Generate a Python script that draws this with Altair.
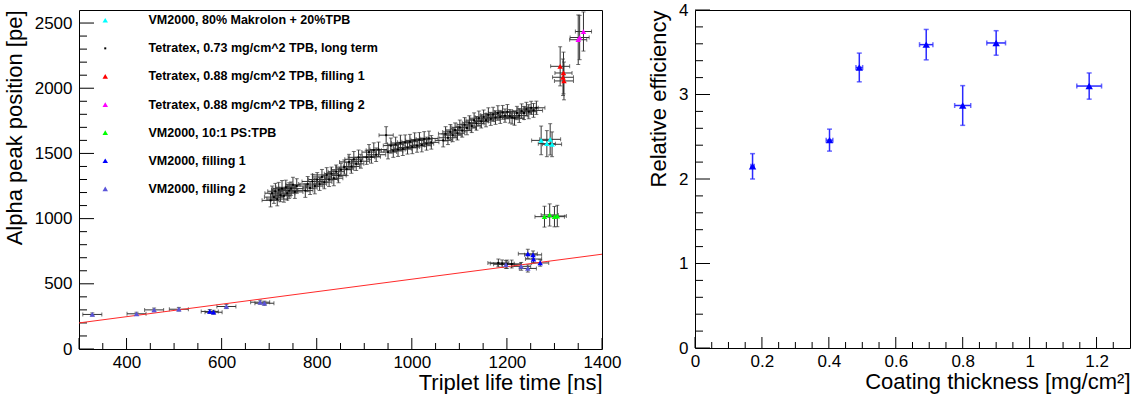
import altair as alt
import pandas as pd

FONT = "Liberation Sans"

# ---------------- left panel data ----------------
series_names = [
    "VM2000, 80% Makrolon + 20%TPB",
    "Tetratex, 0.73 mg/cm^2 TPB, long term",
    "Tetratex, 0.88 mg/cm^2 TPB, filling 1",
    "Tetratex, 0.88 mg/cm^2 TPB, filling 2",
    "VM2000, 10:1 PS:TPB",
    "VM2000, filling 1",
    "VM2000, filling 2",
]
series_colors = ["#00ffff", "#000000", "#ff0000", "#ff00ff", "#00ff00", "#0000ff", "#5a54d9"]
series_shapes = ["triangle-up", "square", "triangle-up", "triangle-up", "triangle-up", "triangle-up", "triangle-up"]
series_sizes = [30, 4, 30, 30, 30, 30, 30]

# Tetratex 0.73 long term (black)
lt_x = [703, 706, 710, 713, 717, 720, 724, 727, 731, 735, 738, 742, 746, 750, 754, 758,
        776, 781, 786, 791, 796, 801, 806, 811, 816, 821, 826, 831, 836, 841, 846, 851,
        858, 863, 868, 873, 878, 883, 888, 893,
        905, 910, 915, 920, 925, 930,
        946, 950, 956, 961, 966, 971, 976, 981, 986, 991, 996, 1001, 1006, 1011, 1016, 1021, 1026, 1031, 1036, 1041,
        1066, 1071, 1076, 1081, 1086, 1091, 1096, 1101, 1106, 1111, 1116, 1121, 1126, 1131, 1136, 1141, 1146, 1151,
        1156, 1161, 1166, 1171, 1176, 1181, 1186, 1191, 1196, 1201, 1206, 1211, 1216, 1221, 1226, 1231, 1236, 1241,
        1246, 1251, 1256, 1262,
        1182, 1190, 1200, 1210]
lt_y = [1140, 1195, 1165, 1210, 1150, 1220, 1180, 1230, 1175, 1240, 1195, 1215, 1230, 1260, 1205, 1250,
        1215, 1265, 1235, 1285, 1250, 1300, 1265, 1320, 1280, 1335, 1300, 1345, 1310, 1360, 1330, 1375,
        1395, 1380, 1435, 1400, 1455, 1420, 1470, 1440,
        1470, 1510, 1475, 1525, 1490, 1530,
        1640, 1510, 1560, 1520, 1570, 1530, 1580, 1535, 1585, 1545, 1590, 1550, 1600, 1560, 1605, 1565, 1610, 1575, 1615, 1585,
        1600, 1650, 1620, 1665, 1640, 1680, 1655, 1700, 1675, 1720, 1695, 1735, 1710, 1755, 1730, 1770, 1745, 1780,
        1755, 1795, 1765, 1800, 1775, 1810, 1780, 1815, 1790, 1820, 1785, 1775, 1770, 1810, 1790, 1825, 1810, 1840,
        1820, 1850, 1830, 1850,
        660, 655, 650, 652]
lt_xerr = [18, 15, 20, 16, 22, 15, 17, 19, 15, 21, 16, 18, 25, 15, 17, 20,
           16, 19, 15, 22, 17, 18, 15, 20, 16, 30, 18, 15, 19, 17, 16, 21,
           18, 15, 20, 17, 19, 16, 22, 18,
           17, 15, 19, 16, 20, 18,
           15, 18, 16, 20, 17, 15, 19, 18, 16, 21, 17, 15, 19, 16, 18, 20, 17, 15, 19, 16,
           17, 15, 19, 16, 18, 20, 15, 17, 19, 16, 18, 15, 20, 17, 16, 19, 15, 18,
           17, 16, 19, 15, 18, 20, 16, 17, 15, 19, 18, 16, 20, 15, 17, 19, 16, 18,
           17, 15, 19, 18,
           22, 25, 28, 20]
lt_yerr = [50, 55, 48, 60, 52, 58, 50, 62, 49, 55, 53, 60, 51, 57, 50, 56,
           52, 58, 50, 55, 60, 53, 49, 57, 51, 56, 54, 50, 58, 52, 55, 50,
           55, 50, 58, 52, 60, 51, 56, 53,
           54, 58, 50, 56, 52, 57,
           65, 52, 58, 50, 55, 53, 60, 51, 57, 50, 56, 52, 58, 51, 55, 53, 57, 50, 56, 52,
           50, 55, 52, 57, 50, 54, 52, 56, 50, 55, 52, 54, 50, 56, 52, 55, 50, 53,
           51, 55, 50, 54, 52, 56, 50, 53, 51, 55, 52, 50, 54, 51, 53, 55, 50, 52,
           54, 50, 53, 51,
           30, 28, 32, 30]

# VM2000, 80% Makrolon + 20%TPB (cyan)
cy_x = [1272, 1284, 1291, 1295]
cy_y = [1600, 1575, 1608, 1570]
cy_xerr = [20, 18, 22, 20]
cy_yerr = [110, 100, 120, 95]
# Tetratex 0.88 filling 1 (red)
rd_x = [1312, 1318, 1319, 1320]
rd_y = [2168, 2084, 2117, 2056]
rd_xerr = [20, 22, 18, 20]
rd_yerr = [150, 140, 160, 145]
# Tetratex 0.88 filling 2 (magenta)
mg_x = [1350, 1353, 1361]
mg_y = [2372, 2389, 2435]
mg_xerr = [18, 20, 17]
mg_yerr = [190, 170, 150]
# VM2000 10:1 PS:TPB (green)
gr_x = [1279, 1290, 1300, 1306]
gr_y = [1015, 1028, 1015, 1020]
gr_xerr = [20, 18, 21, 19]
gr_yerr = [80, 85, 78, 82]
# VM2000 filling 1 (blue)
b1_x = [575, 583, 1244, 1255, 1256, 1270]
b1_y = [288, 282, 730, 722, 690, 660]
b1_xerr = [18, 18, 20, 18, 17, 18]
b1_yerr = [15, 15, 35, 30, 30, 25]
# VM2000 filling 2 (slate blue)
b2_x = [328, 421, 458, 510, 610, 681, 690, 1198, 1230, 1244]
b2_y = [265, 270, 300, 305, 326, 359, 351, 648, 634, 618]
b2_xerr = [20, 20, 20, 20, 20, 20, 20, 18, 20, 18]
b2_yerr = [12, 12, 14, 14, 16, 16, 16, 30, 30, 28]

# linear fit (red line)
fit_x = [300, 1400]
fit_y = [200, 727]

# ---------------- right panel data ----------------
r_x = [0.172, 0.402, 0.491, 0.691, 0.800, 0.900, 1.178]
r_y = [2.15, 2.46, 3.32, 3.59, 2.87, 3.61, 3.10]
r_xerr = [0.005, 0.010, 0.010, 0.020, 0.024, 0.028, 0.037]
r_yerr = [0.15, 0.13, 0.17, 0.18, 0.235, 0.145, 0.155]

# tick values
lx_major = [300, 400, 600, 800, 1000, 1200, 1400]
lx_minor = [350, 450, 500, 550, 650, 700, 750, 850, 900, 950, 1050, 1100, 1150, 1250, 1300, 1350]
lx_labels = [400, 600, 800, 1000, 1200, 1400]
ly_major = [0, 500, 1000, 1500, 2000, 2500]
ly_minor = [100, 200, 300, 400, 600, 700, 800, 900, 1100, 1200, 1300, 1400, 1600, 1700, 1800, 1900,
            2100, 2200, 2300, 2400]
rx_major = [0, 0.2, 0.4, 0.6, 0.8, 1.0, 1.2]
rx_minor = [0.05, 0.1, 0.15, 0.25, 0.3, 0.35, 0.45, 0.5, 0.55, 0.65, 0.7, 0.75, 0.85, 0.9, 0.95,
            1.05, 1.1, 1.15, 1.25]
ry_major = [0, 1, 2, 3, 4]
ry_minor = [0.2, 0.4, 0.6, 0.8, 1.2, 1.4, 1.6, 1.8, 2.2, 2.4, 2.6, 2.8, 3.2, 3.4, 3.6, 3.8]

# ---------------- build tables ----------------
rows = []
for name, xs_, ys_, xe_, ye_ in [
    (series_names[0], cy_x, cy_y, cy_xerr, cy_yerr),
    (series_names[1], lt_x, lt_y, lt_xerr, lt_yerr),
    (series_names[2], rd_x, rd_y, rd_xerr, rd_yerr),
    (series_names[3], mg_x, mg_y, mg_xerr, mg_yerr),
    (series_names[4], gr_x, gr_y, gr_xerr, gr_yerr),
    (series_names[5], b1_x, b1_y, b1_xerr, b1_yerr),
    (series_names[6], b2_x, b2_y, b2_xerr, b2_yerr),
]:
    for a, b, c, d in zip(xs_, ys_, xe_, ye_):
        rows.append({"series": name, "x": a, "y": b, "xlo": a - c, "xhi": a + c, "ylo": b - d, "yhi": b + d})
left_df = pd.DataFrame(rows)
fit_df = pd.DataFrame({"x": fit_x, "y": fit_y})
right_df = pd.DataFrame({"x": r_x, "y": r_y,
                         "xlo": [a - b for a, b in zip(r_x, r_xerr)], "xhi": [a + b for a, b in zip(r_x, r_xerr)],
                         "ylo": [a - b for a, b in zip(r_y, r_yerr)], "yhi": [a + b for a, b in zip(r_y, r_yerr)]})

LW, LH = 523, 339
RW, RH = 435, 338
MAJ, MIN = 12, 6

LABEL_SIZE = 17
TITLE_SIZE = 22


def panel(df, W, H, xdom, ydom, xtitle, ytitle, xvals, yvals, xfmt, yfmt,
          xmaj, xmin, ymaj, ymin, errcolor, errwidth, capsize, point_layer, extra=None):
    xs = alt.Scale(domain=xdom, nice=False, zero=False)
    ys = alt.Scale(domain=ydom, nice=False, zero=False)
    ax = alt.Axis(values=xvals, format=xfmt, title=xtitle, titleAnchor="end", grid=False, ticks=False,
                  tickSize=0, domain=False, labelPadding=5, titlePadding=2, labelFlush=False,
                  labelFont=FONT, titleFont=FONT, labelFontSize=LABEL_SIZE, titleFontSize=TITLE_SIZE,
                  titleFontWeight="normal", labelColor="black", titleColor="black")
    ay = alt.Axis(values=yvals, format=yfmt, title=ytitle, titleAnchor="end", grid=False, ticks=False,
                  tickSize=0, domain=False, labelPadding=7, titlePadding=8, labelFlush=False,
                  labelFont=FONT, titleFont=FONT, labelFontSize=LABEL_SIZE, titleFontSize=TITLE_SIZE,
                  titleFontWeight="normal", labelColor="black", titleColor="black")

    def X(f):
        return alt.X(f, type="quantitative", scale=xs, axis=ax)

    def Y(f):
        return alt.Y(f, type="quantitative", scale=ys, axis=ay)

    base = alt.Chart(df)
    hbar = base.mark_rule(color=errcolor, strokeWidth=errwidth, clip=True).encode(x=X("xlo"), x2="xhi", y=Y("y"))
    vbar = base.mark_rule(color=errcolor, strokeWidth=errwidth, clip=True).encode(x=X("x"), y=Y("ylo"), y2="yhi")
    cap1 = base.mark_tick(color=errcolor, orient="vertical", size=capsize, thickness=errwidth, clip=True).encode(x=X("xlo"), y=Y("y"))
    cap2 = base.mark_tick(color=errcolor, orient="vertical", size=capsize, thickness=errwidth, clip=True).encode(x=X("xhi"), y=Y("y"))
    cap3 = base.mark_tick(color=errcolor, orient="horizontal", size=capsize, thickness=errwidth, clip=True).encode(x=X("x"), y=Y("ylo"))
    cap4 = base.mark_tick(color=errcolor, orient="horizontal", size=capsize, thickness=errwidth, clip=True).encode(x=X("x"), y=Y("yhi"))

    def xt(vals, L):
        return alt.Chart(pd.DataFrame({"v": vals})).mark_rule(color="black", strokeWidth=1).encode(
            x=X("v"), y=alt.value(H), y2=alt.value(H - L))

    def yt(vals, L):
        return alt.Chart(pd.DataFrame({"v": vals})).mark_rule(color="black", strokeWidth=1).encode(
            y=Y("v"), x=alt.value(0), x2=alt.value(L))

    layers = [xt(xmaj, MAJ - 1), xt(xmin, MIN), yt(ymaj, MAJ + 3), yt(ymin, MIN + 2),
              hbar, vbar, cap1, cap2, cap3, cap4]
    if extra is not None:
        layers.append(extra(X, Y))
    layers.append(point_layer(base, X, Y))
    return alt.layer(*layers).properties(width=W, height=H)


legend = alt.Legend(orient="none", legendX=20, legendY=4, title=None, labelFont=FONT, labelFontSize=12.5,
                    labelFontWeight="bold", labelColor="black", labelLimit=500, labelOffset=37,
                    rowPadding=15.1, padding=0, symbolStrokeWidth=0)


def left_points(base, X, Y):
    return base.mark_point(filled=True, opacity=1, clip=True).encode(
        x=X("x"), y=Y("y"),
        color=alt.Color("series:N", scale=alt.Scale(domain=series_names, range=series_colors), legend=legend),
        shape=alt.Shape("series:N", scale=alt.Scale(domain=series_names, range=series_shapes), legend=legend),
        size=alt.Size("series:N", scale=alt.Scale(type="ordinal", domain=series_names, range=series_sizes),
                      legend=legend),
    )


def fit_line(X, Y):
    return alt.Chart(fit_df).mark_line(color="#ff2a2a", strokeWidth=1, clip=True).encode(x=X("x"), y=Y("y"))


def right_points(base, X, Y):
    return base.mark_point(filled=True, opacity=1, color="#0000ff", shape="triangle-up", size=55).encode(
        x=X("x"), y=Y("y"))


left = panel(left_df, LW, LH, [300, 1400], [0, 2600], "Triplet life time [ns]", "Alpha peak position [pe]",
             lx_labels, ly_major, "d", "d", lx_major, lx_minor, ly_major, ly_minor,
             "#333333", 1, 4, left_points, extra=fit_line)

right = panel(right_df, RW, RH, [0, 1.3], [0, 4], "Coating thickness [mg/cm²]", "Relative efficiency",
              rx_major, ry_major, ".1~f", "d", rx_major, rx_minor, ry_major, ry_minor,
              "#2a2aff", 1.5, 5, right_points)

chart = alt.hconcat(left, right, spacing=25).properties(
    padding={"left": 2, "top": 0, "right": 2, "bottom": 0}, background="white"
).configure_view(stroke="black", strokeWidth=1)

chart.save("out.html", embed_options={"renderer": "svg", "actions": False})
